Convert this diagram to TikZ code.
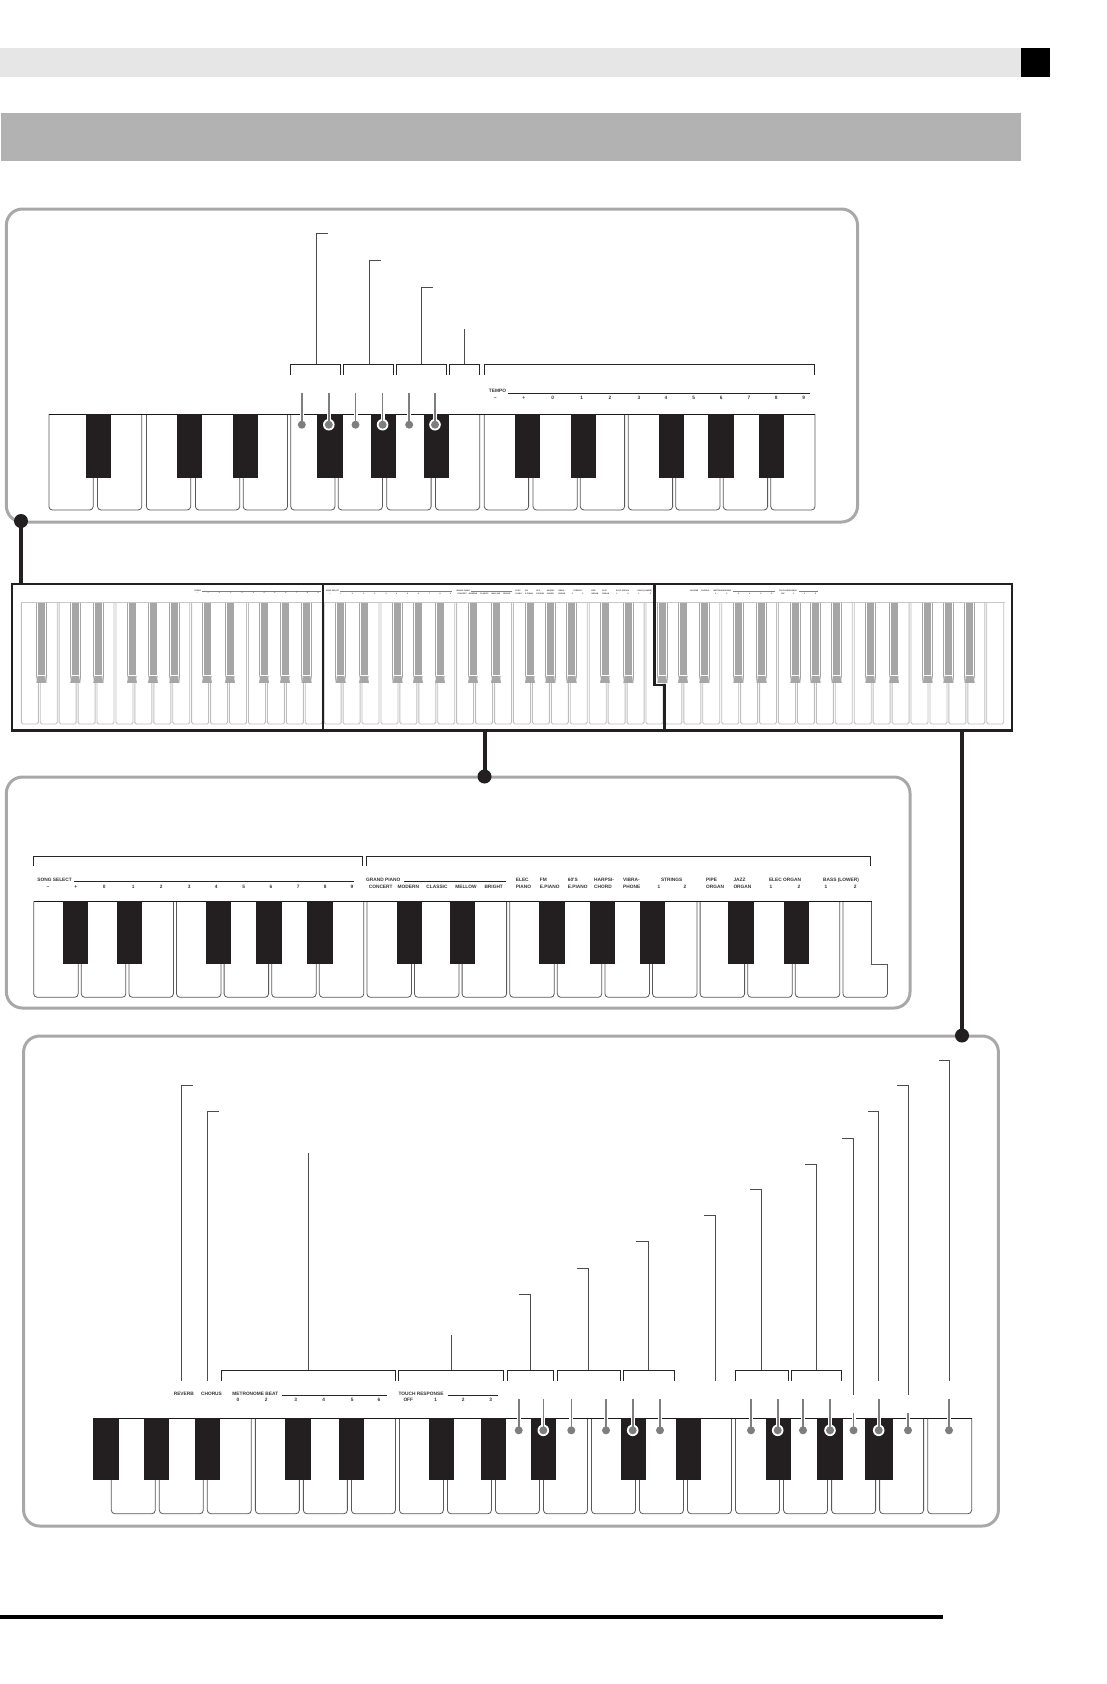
\documentclass[tikz,border=0pt]{standalone}
\usepackage{fontspec}
\setmainfont{Liberation Sans}
\usepackage{xcolor}
\usepackage{tikz}
\definecolor{bandlight}{HTML}{E6E6E6}
\definecolor{bandgray}{HTML}{B2B2B2}
\definecolor{panelgray}{HTML}{A8A8A8}
\definecolor{dotgray}{HTML}{7E7E7E}
\definecolor{keyblack}{HTML}{231F20}
\definecolor{minigray}{HTML}{A6A6A6}
\newcommand{\tempolabels}{
\draw[toprule](507.5,392.9)--(810,392.9);
\path(497.5,391)node[lab]{TEMPO}
(495.3,397.7)node[lab]{\textminus}(523.7,397.7)node[lab]{+}(552.7,397.7)node[lab]{0}
(581.7,397.7)node[lab]{1}(610,397.7)node[lab]{2}(639,397.7)node[lab]{3}
(666,397.7)node[lab]{4}(693.7,397.7)node[lab]{5}(721.3,397.7)node[lab]{6}
(749,397.7)node[lab]{7}(776.3,397.7)node[lab]{8}(803.7,397.7)node[lab]{9};
}
\newcommand{\tonelabels}{
\draw[toprule](74,881.3)--(354.3,881.3);
\draw[toprule](404,881.3)--(505.7,881.3);
\path(54.6,879.7)node[lab]{SONG SELECT}(383.2,879.7)node[lab]{GRAND PIANO}
(48,886.7)node[lab]{\textminus}(75.7,886.7)node[lab]{+}(104.3,886.7)node[lab]{0}
(133.3,886.7)node[lab]{1}(161.3,886.7)node[lab]{2}(189.3,886.7)node[lab]{3}
(216.3,886.7)node[lab]{4}(243.7,886.7)node[lab]{5}(271,886.7)node[lab]{6}
(298.3,886.7)node[lab]{7}(325.3,886.7)node[lab]{8}(352,886.7)node[lab]{9}
(380.7,886.7)node[lab]{CONCERT}(408.3,886.7)node[lab]{MODERN}(437,886.7)node[lab]{CLASSIC}
(466,886.7)node[lab]{MELLOW}(493.7,886.7)node[lab]{BRIGHT}
(515.7,879.7)node[lab,right]{ELEC}(515.7,886.7)node[lab,right]{PIANO}
(539.7,879.7)node[lab,right]{FM}(539.7,886.7)node[lab,right]{E.PIANO}
(567.7,879.7)node[lab,right]{60'S}(567.7,886.7)node[lab,right]{E.PIANO}
(594,879.7)node[lab,right]{HARPSI-}(594,886.7)node[lab,right]{CHORD}
(623,879.7)node[lab,right]{VIBRA-}(623,886.7)node[lab,right]{PHONE}
(671.7,879.7)node[lab]{STRINGS}(659,886.7)node[lab]{1}(685,886.7)node[lab]{2}
(706,879.7)node[lab,right]{PIPE}(706,886.7)node[lab,right]{ORGAN}
(733.3,879.7)node[lab,right]{JAZZ}(733.3,886.7)node[lab,right]{ORGAN}
(785,879.7)node[lab]{ELEC ORGAN}(771,886.7)node[lab]{1}(799,886.7)node[lab]{2}
(841,879.7)node[lab]{BASS (LOWER)}(826,886.7)node[lab]{1}(855.3,886.7)node[lab]{2};
}
\newcommand{\metrolabels}{
\draw[toprule](282,1395)--(387,1395);
\draw[toprule](448,1395)--(498,1395);
\path(183.8,1393.3)node[lab]{REVERB}(211.5,1393.3)node[lab]{CHORUS}
(255.3,1393.3)node[lab]{METRONOME BEAT}(421,1393.3)node[lab]{TOUCH RESPONSE}
(238,1400)node[lab]{0}(266.3,1400)node[lab]{2}(295.7,1400)node[lab]{3}
(323.7,1400)node[lab]{4}(352.3,1400)node[lab]{5}(379,1400)node[lab]{6}
(408.3,1400)node[lab]{OFF}(435.7,1400)node[lab]{1}(463.3,1400)node[lab]{2}(490.7,1400)node[lab]{3};
}
\begin{document}
\begin{tikzpicture}[x=1pt,y=-1pt,
panel/.style={draw=panelgray,line width=3pt,rounded corners=16pt},
whitekey/.style={draw=black!65,line width=0.8pt,rounded corners=3.5pt},
blackkey/.style={fill=keyblack},
bracket/.style={draw=black!85,line width=0.9pt},
leader/.style={draw=black!70,line width=1pt},
halo/.style={draw=white,line width=4pt},
stem/.style={draw=dotgray,line width=1.6pt},
minikey/.style={draw=black!25,line width=0.9pt,rounded corners=1.5pt},
frame/.style={draw=keyblack,line width=2.6pt,line join=miter},
link/.style={draw=keyblack,line width=3.6pt},
lab/.style={inner sep=0pt,text height=3.5pt,text depth=0pt,font=\fontsize{4.8}{6}\selectfont\bfseries,text=black!80},
toprule/.style={draw=black!85,line width=0.8pt},
minirule/.style={toprule/.style={draw=black!50,line width=0.35pt}}]
\useasboundingbox(0,0)rectangle(1106,1684);
\fill[bandlight](0,48)rectangle(1021,77);
\fill[black](1021,48)rectangle(1050,77);
\fill[bandgray](1,113)rectangle(1021,161);
\draw[black,line width=4pt](0,1617)--(943,1617);
\draw[panel](6.4,209)rectangle(857.5,522);
\foreach \x in {48.9,97.5,146.4,195.4,243.2,290.7,338.2,386.8,435.4,484.3,533,580.3,628.3,675.7,723.3,770.7}{
\draw[whitekey](\x,414)--(\x,510)--(\x+44.3,510)--(\x+44.3,414);
}
\draw[black!90,line width=0.9pt](48.9,414)--(815,414);
\foreach \a/\b in {86/111,177/202,233/258,317/343,371/396,424/449,515/540,571/596,659/684,708/734,759/784}{
\fill[blackkey](\a,414)rectangle(\b,478);
}
\foreach \x in {301.8,355.5,409.2}{
\draw[halo](\x,392.7)--(\x,422);
\draw[stem](\x,392.7)--(\x,424.7);
\fill[dotgray](\x,424.7)circle(4);
}
\foreach \x in {328.8,382.6,435}{
\draw[halo](\x,392.7)--(\x,422);
\fill[white](\x,424.7)circle(5.8);
\draw[stem](\x,392.7)--(\x,424.7);
\fill[dotgray](\x,424.7)circle(4);
}
\draw[bracket](290.7,374.7)--(290.7,364.3)--(340.4,364.3)--(340.4,374.7);
\draw[bracket](343.6,374.7)--(343.6,364.3)--(393.2,364.3)--(393.2,374.7);
\draw[bracket](396.8,374.7)--(396.8,364.3)--(446.4,364.3)--(446.4,374.7);
\draw[bracket](449.3,374.7)--(449.3,364.3)--(479.6,364.3)--(479.6,374.7);
\draw[bracket](484.3,374.7)--(484.3,364.3)--(814.5,364.3)--(814.5,374.7);
\draw[leader](316,364.3)--(316,233)--(327.5,233);
\draw[leader](369,364.3)--(369,260.3)--(380.7,260.3);
\draw[leader](421.4,364.3)--(421.4,287.3)--(432.9,287.3);
\draw[leader](464.3,364.3)--(464.3,329);
\tempolabels
\foreach \k in {0,...,51}{
\draw[minikey](21.3+18.93*\k,602.7)--(21.3+18.93*\k,724)--(38.3+18.93*\k,724)--(38.3+18.93*\k,602.7);
}
\draw[black!22,line width=1.4pt](21.3,602.7)--(1005,602.7);
\foreach \c in {41.3,75.3,98.3,132,153,174.3,207,230,264,285,306.7,340.7,364,397.7,418,440,473,496,530,550.3,571.7,605,628.3,662.3,683,704.3,738.3,761.7,795.3,815.7,836.7,870.3,894,927.7,948.3,969.7}{
\fill[minigray](\c-5.3,602.7)rectangle(\c+5.3,682.7);
\draw[white,line width=0.7pt](\c-3.9,602.7)--(\c-3.9,675.2)--(\c+3.9,675.2)--(\c+3.9,602.7);
\draw[white,line width=0.5pt](\c-3.9,675.2)--(\c-5.3,682.7)(\c+3.9,675.2)--(\c+5.3,682.7);
}
\begin{scope}[cm={.393,0,0,.393,(2.3pt,-437pt)},transform shape,minirule]
\tempolabels
\end{scope}
\begin{scope}[cm={.397,0,0,.397,(310.9pt,-241.5pt)},transform shape,minirule]
\tonelabels
\end{scope}
\begin{scope}[cm={.395,0,0,.395,(621.7pt,-40.3pt)},transform shape,minirule]
\metrolabels
\end{scope}
\draw[frame](12,584)rectangle(1012,730.7);
\draw[frame](323,584)--(323,730.7);
\draw[frame](654.7,584)--(654.7,685)--(664.3,685)--(664.3,730.7);
\draw[panel](6.4,777)rectangle(910,1008);
\foreach \k in {0,...,17}{
\draw[whitekey](33.7+47.6*\k,901.3)--(33.7+47.6*\k,997.3)--(78.2+47.6*\k,997.3)--(78.2+47.6*\k,901.3);
}
\fill[white](872.6,900)rectangle(889,963.5);
\draw[black!65,line width=0.8pt](871.7,901.3)--(871.7,963.9)--(887.7,963.9);
\draw[black!90,line width=0.9pt](33.7,901.3)--(871.7,901.3);
\foreach \a/\b in {63/88,117/142,206/231,256/282,307/333,397/422,450/475,539/565,590/615,640/665,728/754,784/809}{
\fill[blackkey](\a,901.3)rectangle(\b,963.7);
}
\draw[bracket](33.3,865.7)--(33.3,856.3)--(362.7,856.3)--(362.7,865.7);
\draw[bracket](366.3,865.7)--(366.3,856.3)--(870.3,856.3)--(870.3,865.7);
\tonelabels
\draw[panel](23.6,1036)rectangle(998.4,1526);
\foreach \k in {0,...,17}{
\draw[whitekey](111.3+48.02*\k,1418.3)--(111.3+48.02*\k,1513.7)--(155.3+48.02*\k,1513.7)--(155.3+48.02*\k,1418.3);
}
\draw[black!90,line width=0.9pt](93,1418.3)--(971.7,1418.3);
\foreach \a/\b in {93/119,144/169,195/220,285/311,339/364,429/454,481/506,531/556,621/646,676/701,766/791,817/843,865/893}{
\fill[blackkey](\a,1418.3)rectangle(\b,1479.7);
}
\foreach \x in {518.7,571.3,606,660,751,803,949}{
\draw[halo](\x,1399)--(\x,1428);
\draw[stem](\x,1399)--(\x,1430.3);
\fill[dotgray](\x,1430.3)circle(4);
}
\foreach \x in {853.5,908}{
\draw[halo](\x,1413)--(\x,1428);
\draw[stem](\x,1413)--(\x,1430.3);
\fill[dotgray](\x,1430.3)circle(4);
}
\foreach \x in {543.3,632.7,777.7,830,878.7}{
\draw[halo](\x,1399)--(\x,1428);
\fill[white](\x,1430.3)circle(5.8);
\draw[stem](\x,1399)--(\x,1430.3);
\fill[dotgray](\x,1430.3)circle(4);
}
\draw[bracket](221.3,1380.7)--(221.3,1370.3)--(395.3,1370.3)--(395.3,1380.7);
\draw[bracket](398.3,1380.7)--(398.3,1370.3)--(503.7,1370.3)--(503.7,1380.7);
\draw[bracket](507.3,1380.7)--(507.3,1370.3)--(553.7,1370.3)--(553.7,1380.7);
\draw[bracket](557.3,1380.7)--(557.3,1370.3)--(620,1370.3)--(620,1380.7);
\draw[bracket](623,1380.7)--(623,1370.3)--(674.3,1370.3)--(674.3,1380.7);
\draw[bracket](735.3,1380.7)--(735.3,1370.3)--(788.7,1370.3)--(788.7,1380.7);
\draw[bracket](791.7,1380.7)--(791.7,1370.3)--(841.3,1370.3)--(841.3,1380.7);
\draw[leader](181,1380.7)--(181,1085.6)--(193,1085.6);
\draw[leader](207,1380.7)--(207,1111.4)--(219,1111.4);
\draw[leader](308.7,1370.3)--(308.7,1153);
\draw[leader](451.7,1370.3)--(451.7,1335);
\draw[leader](530.3,1370.3)--(530.3,1294)--(518.7,1294);
\draw[leader](588.3,1370.3)--(588.3,1268)--(576.6,1268);
\draw[leader](648,1370.3)--(648,1241)--(635.7,1241);
\draw[leader](715.7,1380.7)--(715.7,1215.5)--(704.4,1215.5);
\draw[leader](761.7,1370.3)--(761.7,1189.8)--(749.5,1189.8);
\draw[leader](816.7,1370.3)--(816.7,1164)--(805,1164);
\draw[leader](853.5,1394.7)--(853.5,1138)--(842,1138);
\draw[leader](878.7,1380.7)--(878.7,1111.4)--(867.6,1111.4);
\draw[leader](908.3,1394.7)--(908.3,1085.6)--(896.6,1085.6);
\draw[leader](949.3,1380.7)--(949.3,1060)--(938.5,1060);
\metrolabels
\draw[link](21,522)--(21,584);
\draw[link](484.7,731)--(484.7,777);
\draw[link](962,731)--(962,1036);
\fill[keyblack](21,521)circle(7);
\fill[keyblack](484.5,776.5)circle(7);
\fill[keyblack](962,1035.5)circle(7);
\end{tikzpicture}
\end{document}
